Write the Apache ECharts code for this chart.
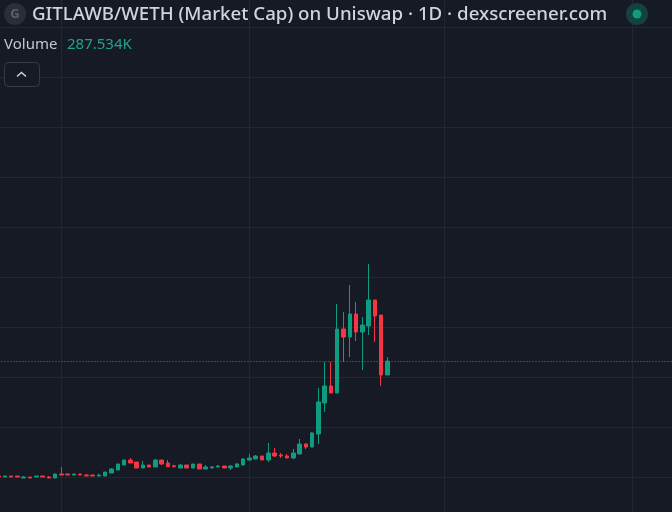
<!DOCTYPE html>
<html><head><meta charset="utf-8">
<style>html,body{margin:0;padding:0;background:#161a25}#c{width:672px;height:512px}</style>
<script src="https://cdn.jsdelivr.net/npm/echarts@6/dist/echarts.min.js"></script>
</head><body><div id="c"></div>
<script>
const categories = ['03-22','03-23','03-24','03-25','03-26','03-27','03-28','03-29','03-30','03-31',
'04-01','04-02','04-03','04-04','04-05','04-06','04-07','04-08','04-09','04-10','04-11','04-12','04-13','04-14','04-15','04-16','04-17','04-18','04-19','04-20','04-21','04-22','04-23','04-24','04-25','04-26','04-27','04-28','04-29','04-30',
'05-01','05-02','05-03','05-04','05-05','05-06','05-07','05-08','05-09','05-10','05-11','05-12','05-13','05-14','05-15','05-16','05-17','05-18','05-19','05-20','05-21','05-22','05-23','05-24','05-25','05-26','05-27','05-28','05-29','05-30','05-31',
'06-01','06-02','06-03','06-04','06-05','06-06','06-07','06-08','06-09','06-10','06-11','06-12','06-13','06-14','06-15','06-16','06-17','06-18','06-19','06-20','06-21','06-22','06-23','06-24','06-25','06-26','06-27','06-28','06-29','06-30',
'07-01','07-02','07-03','07-04','07-05','07-06','07-07'];
const monthStarts = ['04-01','05-01','06-01','07-01'];
const open = [.06,.02,.06,.06,-.02,.02,.02,.06,.02,-.02,.14,.14,.10,.14,.10,.10,.06,.06,.18,.30,.50,.70,.62,.38,.50,.42,.70,.58,.47,.38,.50,.38,.54,.34,.38,.42,.46,.38,.42,.50,.70,.74,.86,.70,.98,.90,.86,.78,.94,1.34,1.22,1.74,2.98,3.66,3.38,5.94,5.62,6.54,5.82,6.06,7.10,6.50,4.10];
const close = [.02,.06,.02,.02,.02,-.02,.06,.02,-.02,.14,.10,.10,.14,.10,.06,.06,.10,.22,.34,.54,.70,.58,.38,.50,.42,.70,.54,.43,.43,.50,.38,.54,.34,.42,.42,.46,.38,.46,.54,.74,.78,.86,.70,.98,.86,.86,.78,.98,1.34,1.22,1.78,3.02,3.66,3.38,5.94,5.62,6.54,5.82,6.10,7.10,6.46,4.10,4.66];
const low = [.02,.02,.02,.02,-.02,-.02,.02,.02,-.02,-.02,.10,.10,.10,.10,.06,.06,.06,.06,.18,.30,.50,.58,.38,.38,.42,.42,.50,.43,.41,.38,.38,.38,.34,.34,.38,.42,.38,.30,.42,.50,.66,.74,.70,.62,.82,.78,.78,.74,.94,1.14,1.22,1.34,2.62,3.38,3.38,4.62,4.82,5.46,4.30,5.70,5.42,3.66,4.10];
const high = [.06,.06,.06,.06,.06,.02,.06,.06,.06,.14,.42,.14,.14,.14,.14,.10,.14,.22,.38,.54,.70,.78,.62,.66,.50,.74,.70,.70,.51,.54,.50,.54,.54,.50,.46,.50,.46,.50,.58,.78,.94,.90,.86,1.38,1.18,.98,.94,1.14,1.54,1.38,1.82,3.58,4.62,4.62,6.94,6.62,7.70,7.02,6.42,8.54,7.10,6.50,4.82];
const lastPrice = 4.64;
const titleText = 'GITLAWB/WETH (Market Cap) on Uniswap · 1D · dexscreener.com';
const volumeLabel = 'Volume';
const volumeValue = '287.534K';

const candles = open.map((o,i)=>[o,close[i],low[i],high[i]]);
const chart = echarts.init(document.getElementById('c'),null,{renderer:'canvas'});
const font = '"Noto Sans", sans-serif';
chart.setOption({
  animation:false,
  backgroundColor:'#161a25',
  grid:{left:-4.5,top:-22.5,width:677.2,height:550,containLabel:false,outerBoundsMode:'none'},
  xAxis:{type:'category',data:categories,axisLabel:{show:false},axisTick:{show:false},axisLine:{show:false},splitLine:{show:false}},
  yAxis:{type:'value',min:-2,max:20,interval:2,axisLabel:{show:false},axisTick:{show:false},axisLine:{show:false},
    splitLine:{show:true,lineStyle:{color:'#232733',width:1}}},
  series:[{
    type:'candlestick',data:candles,barWidth:4,clip:false,
    itemStyle:{color:'#0f9b80',color0:'#f23645',borderColor:'#0f9b80',borderColor0:'#f23645',borderWidth:1},
    markLine:{silent:true,symbol:'none',z:1,animation:false,label:{show:false},
      data:[
        ...monthStarts.map(m=>({xAxis:m,lineStyle:{color:'#232733',width:1,type:'solid'}})),
        {yAxis:lastPrice,lineStyle:{color:'#119c82',width:1,type:[1,2]}}
      ]}
  }],
  graphic:[
    {type:'circle',shape:{cx:15,cy:14,r:11},style:{fill:'#2a2e39'},z:10},
    {type:'text',x:15,y:14,style:{text:'G',fill:'#5d606b',font:'bold 13px '+font,align:'center',verticalAlign:'middle'},z:11},
    {type:'text',x:32,y:15,style:{text:titleText,fill:'#d1d4dc',font:'500 18.7px '+font,verticalAlign:'middle'},z:11},
    {type:'circle',shape:{cx:637,cy:14,r:11},style:{fill:'#14423f'},z:10},
    {type:'circle',shape:{cx:637,cy:14,r:4.5},style:{fill:'#0f9b80'},z:11},
    {type:'text',x:4,y:45,style:{text:volumeLabel,fill:'#c4c7d0',font:'15px '+font,verticalAlign:'middle'},z:11},
    {type:'text',x:67,y:45,style:{text:volumeValue,fill:'#22a28a',font:'15px '+font,verticalAlign:'middle'},z:11},
    {type:'rect',shape:{x:4.5,y:62.5,width:35,height:24,r:4},style:{fill:'#161a25',stroke:'#363a45',lineWidth:1},z:10},
    {type:'polyline',shape:{points:[[17,76.5],[21.5,72.5],[26,76.5]]},style:{stroke:'#d1d4dc',lineWidth:1.4,fill:null},z:11}
  ]
});
</script></body></html>
